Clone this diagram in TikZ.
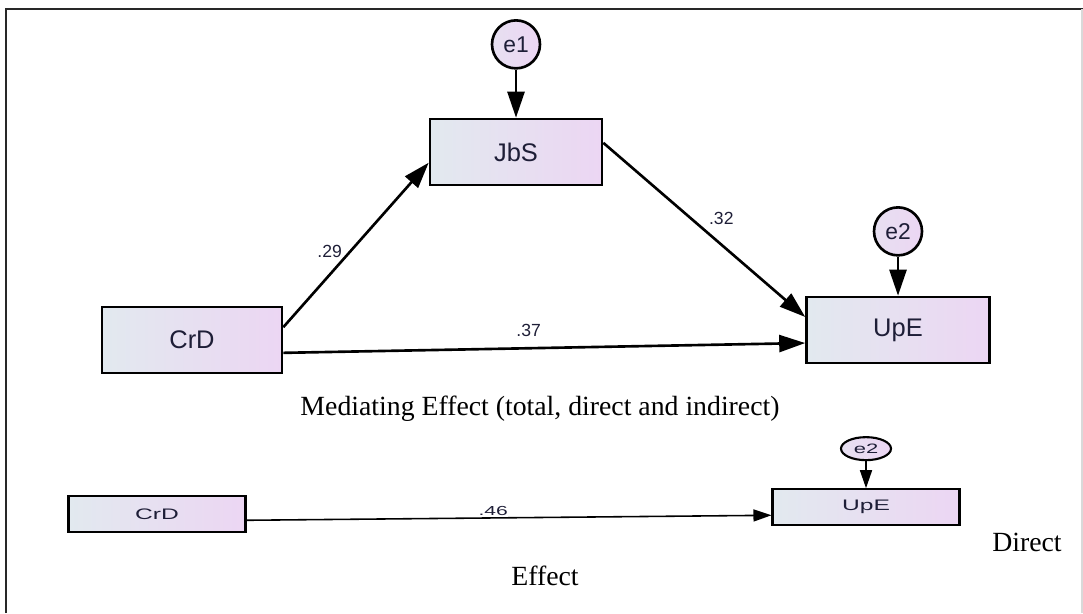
\documentclass[tikz,border=0pt]{standalone}
\usepackage{fontspec}
\usepackage{graphicx}
\setmainfont{Liberation Serif}
\newfontfamily\amosfont{Liberation Sans}
\usetikzlibrary{arrows.meta,positioning,shapes.geometric}
\definecolor{SEMblue}{RGB}{226,233,239}
\definecolor{SEMlilac}{RGB}{236,214,243}
\definecolor{SEMink}{RGB}{30,30,55}
\definecolor{SEMframe}{RGB}{40,40,40}
\newcommand{\squash}[1]{\scalebox{1}[0.62]{#1}}
\tikzset{
  obs/.style={rectangle,draw=black,line width=1.5pt,left color=SEMblue,right color=SEMlilac,
              text=SEMink,font=\amosfont\fontsize{14.5}{17}\selectfont,minimum height=1.32cm},
  obssm/.style={obs,line width=1.2pt,minimum height=0.71cm,font=\amosfont\fontsize{14}{16}\selectfont},
  err/.style={circle,draw=black,line width=1.5pt,left color=SEMblue!50!SEMlilac,right color=SEMlilac,
              text=SEMink,font=\amosfont\fontsize{13}{15}\selectfont,minimum size=0.96cm,inner sep=0pt},
  errsm/.style={ellipse,draw=black,line width=1.2pt,left color=SEMblue!50!SEMlilac,right color=SEMlilac,
                text=SEMink,font=\amosfont\fontsize{12.5}{14}\selectfont,minimum width=1cm,minimum height=0.46cm,inner sep=0pt},
  reg/.style={-{Triangle[length=0.52cm,width=0.34cm]},line width=1.5pt},
  regsm/.style={-{Triangle[length=0.36cm,width=0.24cm]},line width=0.9pt},
  coef/.style={font=\amosfont\fontsize{10}{12}\selectfont,text=SEMink,inner sep=2pt},
  capt/.style={font=\fontsize{15.8}{19}\selectfont}
}
\begin{document}
\begin{tikzpicture}
  \useasboundingbox (0,0) rectangle (21.66,-12.26);
  % frame
  \draw[SEMframe,line width=1.6pt] (0.12,-12.26) -- (0.12,-0.18) -- (21.66,-0.18);
  \draw[black!15,line width=0.6pt] (21.64,-0.18) -- (21.64,-12.26);
  % mediating model
  \node[obs,minimum width=3.44cm] (jbs) at (10.32,-3.04) {JbS};
  \node[err,above=0.96cm of jbs] (e1) {e1};
  \node[obs,minimum width=3.6cm] (crd) at (3.84,-6.80) {CrD};
  \node[obs,minimum width=3.66cm] (upe) at (17.96,-6.60) {UpE};
  \node[err,above=0.78cm of upe] (e2) {e2};
  \draw[reg] (e1) -- (jbs);
  \draw[reg] (e2) -- (upe);
  \draw[reg] (crd.8) -- node[coef,pos=0.46,left=2pt] {.29} (jbs.187);
  \draw[reg] (jbs.6) -- node[coef,midway,above right] {.32} (upe.172);
  \draw[reg] (crd.-8) -- node[coef,pos=0.47,above=4pt] {.37} (upe.188);
  \node[capt] (mcap) at (10.80,-8.18) {Mediating Effect (total, direct and indirect)};
  % direct model
  \node[obssm,minimum width=3.54cm] (crd2) at (3.14,-10.28) {\squash{CrD}};
  \node[obssm,minimum width=3.74cm] (upe2) at (17.32,-10.14) {\squash{UpE}};
  \node[errsm,above=0.54cm of upe2] (e22) {\squash{e2}};
  \draw[regsm] (e22) -- (upe2);
  \draw[regsm] (crd2.-4) -- node[coef,pos=0.47,above,inner sep=1pt,font=\amosfont\fontsize{12}{14}\selectfont] {\squash{.46}} (upe2.185);
  \node[capt] (dcap) at (20.54,-10.84) {Direct};
  \node[capt] (ecap) at (10.90,-11.52) {Effect};
\end{tikzpicture}
\end{document}
